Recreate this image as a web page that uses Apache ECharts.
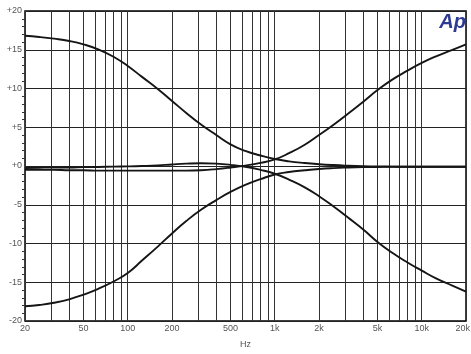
<!DOCTYPE html>
<html>
<head>
<meta charset="utf-8">
<script src="https://cdn.jsdelivr.net/npm/echarts@6/dist/echarts.min.js"></script>
<style>
  html, body { margin: 0; padding: 0; background: #fff; }
  #chart { width: 471px; height: 354px; }
</style>
</head>
<body>
<div id="chart"></div>
<script>
// frequencies (Hz) the curves were read at, 1/3 octave steps
const freqs = [20, 25, 31.5, 40, 50, 63, 80, 100, 125, 160, 200, 250, 315, 400, 500, 630, 800,
  1000, 1250, 1600, 2000, 2500, 3150, 4000, 5000, 6300, 8000, 10000, 12500, 16000, 20000];

// levels (dB)
const bassBoost = [16.8, 16.65, 16.43, 16.13, 15.7, 15.05, 14.1, 12.9, 11.5, 9.95, 8.4, 6.85, 5.35, 4.0, 2.8, 1.95, 1.35,
  0.9, 0.6, 0.38, 0.23, 0.12, 0.04, -0.02, -0.06, -0.08, -0.1, -0.1, -0.1, -0.1, -0.1];
const bassCut = [-18.1, -17.93, -17.65, -17.2, -16.6, -15.85, -14.9, -13.8, -12.2, -10.4, -8.7, -7.1, -5.65, -4.4, -3.35, -2.45, -1.7,
  -1.1, -0.78, -0.55, -0.38, -0.27, -0.2, -0.15, -0.12, -0.1, -0.1, -0.1, -0.1, -0.1, -0.1];
const trebleBoost = [-0.5, -0.5, -0.5, -0.55, -0.55, -0.6, -0.6, -0.6, -0.6, -0.6, -0.6, -0.6, -0.55, -0.4, -0.2, 0.05, 0.4,
  0.85, 1.65, 2.75, 4.0, 5.3, 6.75, 8.3, 9.8, 11.15, 12.3, 13.3, 14.15, 14.95, 15.7];
const trebleCut = [-0.25, -0.22, -0.2, -0.2, -0.15, -0.12, -0.08, -0.05, 0.0, 0.08, 0.2, 0.3, 0.35, 0.3, 0.15, -0.1, -0.5,
  -1.0, -1.75, -2.75, -3.9, -5.2, -6.65, -8.2, -9.8, -11.2, -12.45, -13.5, -14.5, -15.4, -16.2];

// vertical grid lines and which of them carry a label
const gridFreqs = [20, 30, 40, 50, 60, 70, 80, 90, 100, 200, 300, 400, 500, 600, 700, 800, 900,
  1000, 2000, 3000, 4000, 5000, 6000, 7000, 8000, 9000, 10000, 20000];
const labelFreqs = {20: "20", 50: "50", 100: "100", 200: "200", 500: "500", 1000: "1k",
  2000: "2k", 5000: "5k", 10000: "10k", 20000: "20k"};

const toPairs = (ys) => freqs.map((f, i) => [f, ys[i]]);

const curve = (ys) => ({
  type: "line",
  data: toPairs(ys),
  smooth: 0.5,
  showSymbol: false,
  z: 5,
  lineStyle: { color: "#151515", width: 1.9 },
});

const chart = echarts.init(document.getElementById("chart"));
chart.setOption({
  animation: false,
  grid: { left: 25, right: 5, top: 11, bottom: 27, show: true, borderColor: "#000", borderWidth: 1.5 },
  xAxis: {
    type: "log",
    logBase: 10,
    min: 20,
    max: 20000,
    name: "Hz",
    nameLocation: "middle",
    nameGap: 19,
    nameTextStyle: { fontFamily: "Liberation Sans", fontSize: 9, color: "#555" },
    axisLine: { show: false },
    axisTick: { show: false },
    axisLabel: { show: false },
    splitLine: { show: false },
  },
  yAxis: {
    type: "value",
    min: -20,
    max: 20,
    interval: 5,
    axisLine: { show: false },
    axisTick: { show: false },
    minorTick: { show: true, splitNumber: 5, length: 3, lineStyle: { color: "#333" } },
    axisLabel: {
      margin: 3,
      fontFamily: "Liberation Sans",
      fontSize: 9,
      color: "#555",
      formatter: (v) => (v >= 0 ? "+" + v : String(v)),
    },
    splitLine: { show: true, lineStyle: { color: "#222", width: 1 } },
  },
  graphic: [
    {
      type: "text",
      right: 5,
      top: 12,
      style: {
        text: "Ap",
        font: "italic bold 20px 'Liberation Sans'",
        fill: "#2d3b92",
      },
      z: 10,
    },
  ],
  series: [
    {
      type: "line",
      data: [],
      z: 1,
      markLine: {
        silent: true,
        symbol: "none",
        animation: false,
        lineStyle: { color: "#333", type: "solid", width: 1 },
        label: {
          show: true,
          position: "start",
          distance: 3,
          fontFamily: "Liberation Sans",
          fontSize: 9,
          color: "#555",
          formatter: (p) => labelFreqs[p.value] || "",
        },
        data: gridFreqs.map((f) =>
          f === 20000
            ? { xAxis: f, label: { align: "right", offset: [4, 0] } }
            : { xAxis: f }
        ),
      },
    },
    curve(bassBoost),
    curve(bassCut),
    curve(trebleBoost),
    curve(trebleCut),
  ],
});
</script>
</body>
</html>
